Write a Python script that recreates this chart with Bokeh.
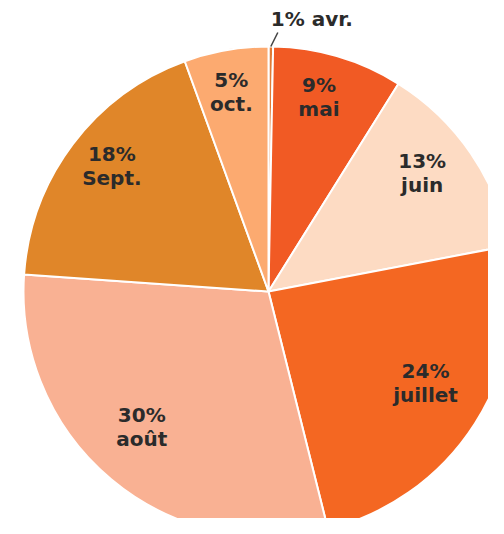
import numpy as np
from bokeh.plotting import figure
from bokeh.models import Range1d, ColumnDataSource
from bokeh.core.properties import value
from bokeh.embed import file_html
from bokeh.resources import INLINE

# data (share of the year, %)
months = ["avr.", "mai", "juin", "juillet", "août", "Sept.", "oct."]
shares = [0.3, 8.6, 13.1, 24.1, 30.0, 18.35, 5.55]
pct_labels = ["1%", "9%", "13%", "24%", "30%", "18%", "5%"]
colors = ["#E07A35", "#F15A24", "#FDDBC3", "#F46722", "#F9B193", "#E08629", "#FCAA70"]

W, H = 488, 518
p = figure(width=W, height=H, output_backend="svg", toolbar_location=None,
           x_range=Range1d(0, W), y_range=Range1d(534 - H, 534),
           x_axis_location=None, y_axis_location=None, min_border=0,
           outline_line_color=None, background_fill_color="white")
p.grid.visible = False

cx, cy, R = 268, 243, 245
frac = np.array(shares) / sum(shares)
cum = np.concatenate([[0], np.cumsum(frac)])
start = np.pi / 2 - 2 * np.pi * cum[:-1]
end = np.pi / 2 - 2 * np.pi * cum[1:]

src = ColumnDataSource(dict(start=start, end=end, color=colors))
p.wedge(x=cx, y=cy, radius=R, start_angle="start", end_angle="end", direction="clock",
        fill_color="color", line_color="white", line_width=2, source=src)

mid = 2 * np.pi * (cum[:-1] + cum[1:]) / 2  # clockwise from top
rl = 0.78 * R
lx = cx + rl * np.sin(mid) - 4
ly = cy + rl * np.cos(mid) + 18

font = value("DejaVu Sans")
big = [i for i in range(len(months)) if shares[i] >= 2]
p.text(x=[lx[i] for i in big], y=[ly[i] + 5 for i in big], text=[pct_labels[i] for i in big],
       text_font=font, text_font_style="bold", text_font_size="20px", text_color="#2b2b2b",
       text_align="center", text_baseline="alphabetic")
p.text(x=[lx[i] for i in big], y=[ly[i] - 19 for i in big], text=[months[i] for i in big],
       text_font=font, text_font_style="bold", text_font_size="20px", text_color="#2b2b2b",
       text_align="center", text_baseline="alphabetic")

# small slice label outside with leader
small = [i for i in range(len(months)) if shares[i] < 2]
for i in small:
    ex = cx + R * np.sin(mid[i])
    ey = cy + R * np.cos(mid[i])
    p.line(x=[ex, ex + 7], y=[ey, ey + 14], line_color="#444444", line_width=1.5)
    p.text(x=[ex], y=[ey + 28], text=[pct_labels[i] + " " + months[i]],
           text_font=font, text_font_style="bold", text_font_size="20px", text_color="#2b2b2b",
           text_align="left", text_baseline="alphabetic")

open("out.html", "w").write(file_html(p, INLINE))
